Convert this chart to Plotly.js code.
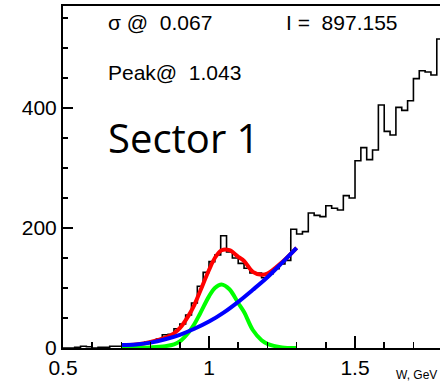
<!DOCTYPE html>
<html>
<head>
<meta charset="utf-8">
<script src="https://cdn.plot.ly/plotly-3.0.1.min.js"></script>
<style>
html,body{margin:0;padding:0;background:#fff;overflow:hidden;}
#chart{width:440px;height:387px;}
</style>
</head>
<body>
<div id="chart"></div>
<script>
// Histogram: W (GeV), bins of width 0.02 starting at 0.50
const binLow = 0.5;
const binWidth = 0.02;
const counts = [
  0, 0, 1, 3, 2, 0, 1, 1, 3, 3,
  3, 4, 5, 7, 10, 12, 15, 22, 23, 32,
  40, 55, 75, 103, 126, 144, 155, 187, 160, 150,
  141, 133, 125, 125, 117, 124, 132, 140, 146, 198,
  190, 194, 225, 221, 219, 237, 233, 230, 254, 250,
  312, 334, 314, 330, 405, 361, 355, 401, 396, 412,
  449, 462, 460, 455, 515
];

// Fit curves (fit range 0.7 - 1.3)
const fitW = [0.70, 0.75, 0.80, 0.85, 0.88, 0.90, 0.93, 0.95, 0.97, 1.00, 1.02, 1.043, 1.07, 1.10, 1.12, 1.15, 1.18, 1.20, 1.25, 1.30];
const signal = [0, 0, 1, 3, 6, 11, 26, 40, 58, 86, 100, 106, 98, 75, 60, 30, 13, 7, 1, 0];
const total = [5, 6, 10, 17.5, 24.5, 33, 54, 72, 95, 130, 150, 163, 163, 152, 145, 127, 122, 124, 143, 167];
const bgW = [0.70, 0.75, 0.80, 0.85, 0.90, 0.95, 1.00, 1.05, 1.10, 1.15, 1.20, 1.25, 1.30];
const background = [5, 6, 9, 14.5, 22, 32, 44, 59, 77, 97, 118, 142, 167];

// Labels
const sigmaLabel = "σ @  0.067";
const integralLabel = "I =  897.155";
const peakLabel = "Peak@  1.043";
const sectorLabel = "Sector 1";
const xTitle = "W, GeV";

// Build step outline from bin edges
const edges = counts.map((c, i) => +(binLow + i * binWidth).toFixed(4));
const stepX = edges.concat([+(binLow + counts.length * binWidth).toFixed(4)]);
const stepY = counts.concat([counts[counts.length - 1]]);

const helv = "Liberation Sans, Arial, Helvetica, sans-serif";

const traces = [
  {x: stepX, y: stepY, type: 'scatter', mode: 'lines',
   line: {shape: 'hv', color: '#000000', width: 1.6}, hoverinfo: 'skip'},
  {x: fitW, y: total, type: 'scatter', mode: 'lines',
   line: {shape: 'spline', smoothing: 1, color: '#ff0000', width: 4}},
  {x: fitW, y: signal, type: 'scatter', mode: 'lines',
   line: {shape: 'spline', smoothing: 1, color: '#00ff00', width: 4}},
  {x: bgW, y: background, type: 'scatter', mode: 'lines',
   line: {shape: 'spline', smoothing: 1, color: '#0000ff', width: 4}}
];

const plotL = 63, plotR = 440, plotT = 6, plotB = 348;
function px2paperX(p){ return (p - plotL) / (plotR - plotL); }
function px2paperY(p){ return (plotB - p) / (plotB - plotT); }

const layout = {
  width: 440, height: 387,
  margin: {l: plotL, r: 440 - plotR, t: plotT, b: 387 - plotB, pad: 0},
  paper_bgcolor: '#ffffff', plot_bgcolor: '#ffffff',
  showlegend: false,
  xaxis: {
    range: [0.5, 1.791],
    tick0: 0.5, dtick: 0.5,
    ticks: 'inside', ticklen: 12, tickwidth: 2, tickcolor: '#000',
    showline: true, linewidth: 2, linecolor: '#000', mirror: true,
    showgrid: false, zeroline: false,
    tickfont: {family: helv, size: 21, color: '#000'},
    minor: {tick0: 0.5, dtick: 0.1, ticks: 'inside', ticklen: 6, tickwidth: 1.5, tickcolor: '#000', showgrid: false}
  },
  yaxis: {
    range: [0, 570],
    tick0: 0, dtick: 200,
    ticks: 'inside', ticklen: 10, tickwidth: 2, tickcolor: '#000',
    showline: true, linewidth: 2, linecolor: '#000', mirror: false,
    showgrid: false, zeroline: false,
    tickfont: {family: helv, size: 21, color: '#000'},
    minor: {tick0: 0, dtick: 50, ticks: 'inside', ticklen: 5, tickwidth: 1.5, tickcolor: '#000', showgrid: false}
  },
  annotations: [
    {text: sigmaLabel, xref: 'paper', yref: 'paper', x: px2paperX(106), y: px2paperY(23),
     xanchor: 'left', yanchor: 'middle', showarrow: false, font: {family: helv, size: 21, color: '#000'}},
    {text: integralLabel, xref: 'paper', yref: 'paper', x: px2paperX(284), y: px2paperY(23),
     xanchor: 'left', yanchor: 'middle', showarrow: false, font: {family: helv, size: 21, color: '#000'}},
    {text: peakLabel, xref: 'paper', yref: 'paper', x: px2paperX(106), y: px2paperY(72),
     xanchor: 'left', yanchor: 'middle', showarrow: false, font: {family: helv, size: 21, color: '#000'}},
    {text: sectorLabel, xref: 'paper', yref: 'paper', x: px2paperX(106), y: px2paperY(137),
     xanchor: 'left', yanchor: 'middle', showarrow: false, font: {family: 'Open Sans, Lato, sans-serif', size: 40, color: '#000'}},
    {text: xTitle, xref: 'paper', yref: 'paper', x: px2paperX(394), y: px2paperY(375),
     xanchor: 'left', yanchor: 'middle', showarrow: false, font: {family: helv, size: 12, color: '#000'}}
  ]
};

Plotly.newPlot('chart', traces, layout, {staticPlot: true, displayModeBar: false});
</script>
</body>
</html>
